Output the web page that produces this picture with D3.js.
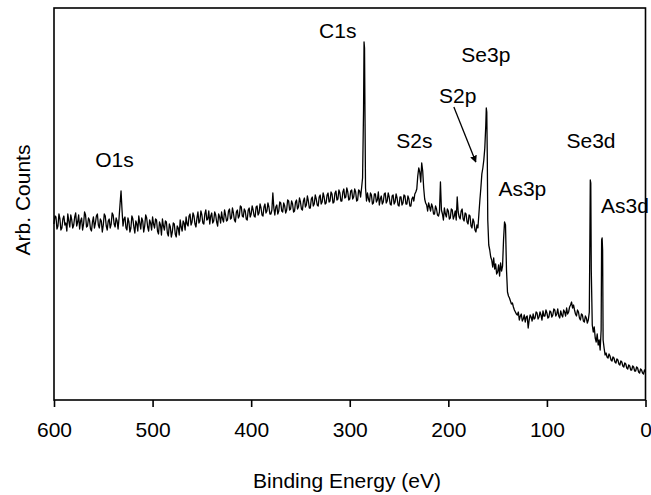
<!DOCTYPE html>
<html>
<head>
  <meta charset="utf-8">
  <title>XPS survey</title>
  <script src="https://cdn.jsdelivr.net/npm/d3@7"></script>
  <style>
    body { margin: 0; background: #fff; }
    svg text { font-family: "Liberation Sans", Arial, sans-serif; fill: #000; }
  </style>
</head>
<body>
<div id="chart"></div>
<script>
// binding energy (eV), counts (arb.)
var spectrum = [
  [600,176],[599,184],[598,183],[597,171],[596,174],[595,186],[594,181],[593,170],[592,172],[591,181],
  [590,184],[589,175],[588,177],[587,169],[586,186],[585,179],[584,173],[583,185],[582,180],[581,172],
  [580,175],[579,183],[578,187],[577,174],[576,178],[575,185],[574,171],[573,179],[572,182],[571,170],
  [570,176],[569,188],[568,185],[567,173],[566,174],[565,182],[564,180],[563,171],[562,169],[561,178],
  [560,183],[559,172],[558,177],[557,184],[556,186],[555,175],[554,172],[553,181],[552,179],[551,168],
  [550,175],[549,186],[548,184],[547,174],[546,170],[545,179],[544,181],[543,172],[542,176],[541,187],
  [540,185],[539,176],[538,173],[537,182],[536,179],[535,171],[534,182],[533,196],[532,209],[531,190],
  [530,174],[529,181],[528,183],[527,172],[526,170],[525,182],[524,178],[523,168],[522,172],[521,184],
  [520,181],[519,173],[518,167],[517,179],[516,176],[515,169],[514,184],[513,177],[512,171],[511,182],
  [510,179],[509,168],[508,174],[507,185],[506,182],[505,173],[504,169],[503,180],[502,177],[501,170],
  [500,183],[499,176],[498,172],[497,181],[496,180],[495,169],[494,166],[493,178],[492,175],[491,165],
  [490,181],[489,174],[488,170],[487,179],[486,178],[485,167],[484,164],[483,176],[482,173],[481,163],
  [480,168],[479,177],[478,176],[477,166],[476,163],[475,174],[474,172],[473,165],[472,180],[471,173],
  [470,169],[469,179],[468,177],[467,170],[466,183],[465,176],[464,174],[463,184],[462,186],[461,175],
  [460,178],[459,187],[458,184],[457,176],[456,173],[455,182],[454,188],[453,177],[452,179],[451,189],
  [450,185],[449,177],[448,176],[447,186],[446,190],[445,180],[444,181],[443,189],[442,176],[441,184],
  [440,187],[439,177],[438,179],[437,188],[436,185],[435,178],[434,174],[433,186],[432,183],[431,177],
  [430,188],[429,181],[428,178],[427,190],[426,185],[425,179],[424,180],[423,189],[422,191],[421,181],
  [420,182],[419,192],[418,187],[417,180],[416,178],[415,188],[414,190],[413,182],[412,184],[411,194],
  [410,193],[409,184],[408,183],[407,191],[406,189],[405,181],[404,180],[403,190],[402,192],[401,183],
  [400,186],[399,194],[398,190],[397,184],[396,183],[395,193],[394,194],[393,185],[392,187],[391,196],
  [390,192],[389,185],[388,184],[387,193],[386,196],[385,187],[384,189],[383,197],[382,193],[381,186],
  [380,186],[379,190],[378,207],[377,192],[376,185],[375,193],[374,195],[373,186],[372,189],[371,198],
  [370,197],[369,189],[368,188],[367,197],[366,194],[365,187],[364,190],[363,200],[362,199],[361,190],
  [360,191],[359,199],[358,196],[357,188],[356,189],[355,198],[354,200],[353,191],[352,193],[351,202],
  [350,198],[349,191],[348,190],[347,199],[346,202],[345,193],[344,195],[343,204],[342,199],[341,192],
  [340,192],[339,201],[338,203],[337,194],[336,196],[335,205],[334,201],[333,195],[332,194],[331,203],
  [330,205],[329,196],[328,198],[327,207],[326,203],[325,196],[324,197],[323,205],[322,207],[321,198],
  [320,199],[319,208],[318,206],[317,197],[316,198],[315,207],[314,209],[313,200],[312,201],[311,210],
  [310,207],[309,199],[308,199],[307,208],[306,211],[305,202],[304,203],[303,212],[302,208],[301,200],
  [300,201],[299,209],[298,210],[297,201],[296,203],[295,211],[294,208],[293,199],[292,200],[291,210],
  [290,209],[289,203],[288,212],[287,222],[286,290],[285.5,358],[285,352],[284.5,280],[284,212],[283,199],
  [282,207],[281,201],[280,198],[279,207],[278,205],[277,196],[276,197],[275,206],[274,206],[273,198],
  [272,200],[271,208],[270,195],[269,201],[268,204],[267,196],[266,198],[265,206],[264,207],[263,197],
  [262,199],[261,207],[260,203],[259,196],[258,195],[257,204],[256,205],[255,196],[254,198],[253,206],
  [252,202],[251,195],[250,194],[249,203],[248,203],[247,195],[246,197],[245,205],[244,204],[243,196],
  [242,196],[241,204],[240,201],[239,194],[238,194],[237,201],[236,203],[235,199],[234,206],[233,208],
  [232,211],[231,224],[230,232],[229,228],[228,218],[227,237],[226,229],[225,212],[224,201],[223,197],
  [222,195],[221,189],[220,197],[219,193],[218,189],[217,196],[216,193],[215,186],[214,186],[213,194],
  [212,191],[211,185],[210,184],[209,188],[208,218],[207,190],[206,186],[205,180],[204,192],[203,186],
  [202,183],[201,191],[200,189],[199,181],[198,182],[197,191],[196,190],[195,181],[194,184],[193,189],
  [192,180],[191,203],[190,188],[189,183],[188,181],[187,189],[186,191],[185,181],[184,179],[183,187],
  [182,186],[181,178],[180,176],[179,185],[178,184],[177,174],[176,172],[175,181],[174,178],[173,170],
  [172,168],[171,175],[170,172],[169,186],[168,200],[167,212],[166,226],[165,232],[164,240],[163,252],
  [162,275],[161.5,292],[161,288],[160.5,245],[160,180],[159,155],[158,150],[157,143],[156,140],[155,133],
  [154,142],[153,131],[152,136],[151,126],[150,128],[149,135],[148,124],[147,137],[146,129],[145,134],
  [144,160],[143,178],[142,175],[141,130],[140,108],[139,104],[138,102],[137,99],[136,96],[135,97],
  [134,93],[133,90],[132,88],[131,86],[130,85],[129,88],[128,80],[127,84],[126,86],[125,79],
  [124,81],[123,85],[122,78],[121,83],[120,84],[119,72],[118,80],[117,85],[116,83],[115,79],
  [114,86],[113,81],[112,82],[111,88],[110,87],[109,81],[108,83],[107,88],[106,85],[105,80],
  [104,89],[103,84],[102,84],[101,90],[100,87],[99,82],[98,83],[97,89],[96,88],[95,83],
  [94,85],[93,91],[92,90],[91,84],[90,86],[89,91],[88,84],[87,82],[86,89],[85,85],
  [84,83],[83,90],[82,88],[81,84],[80,92],[79,86],[78,88],[77,93],[76,95],[75,98],
  [74,92],[73,95],[72,90],[71,86],[70,84],[69,90],[68,88],[67,82],[66,80],[65,86],
  [64,85],[63,79],[62,78],[61,84],[60,82],[59,77],[58,80],[57,88],[56.5,150],[56,220],
  [55.5,217],[55,130],[54,75],[53,68],[52,73],[51,62],[50,58],[49,66],[48,55],[47,60],
  [46,50],[45,70],[44.5,160],[44,162],[43.5,150],[43,60],[42,52],[41,45],[40,47],[39,43],
  [38,42],[37,46],[36,44],[35,40],[34,39],[33,43],[32,42],[31,38],[30,37],[29,41],
  [28,40],[27,36],[26,35],[25,39],[24,38],[23,34],[22,33],[21,37],[20,36],[19,32],
  [18,31],[17,35],[16,34],[15,30],[14,30],[13,34],[12,33],[11,29],[10,29],[9,33],
  [8,32],[7,28],[6,27],[5,31],[4,30],[3,27],[2,26],[1,30],[0,28]
];

var xTicks = [600, 500, 400, 300, 200, 100, 0];

// peak labels: text, energy of centre, count level of baseline
var labels = [
  ["O1s", 538.6, 233],
  ["C1s", 312.2, 362],
  ["Se3p", 161.9, 338],
  ["S2p", 190.4, 297],
  ["S2s", 234.5, 252],
  ["Se3d", 55.3, 252],
  ["As3p", 124.9, 204],
  ["As3d", 20.8, 187]
];

// arrow from S2p label to its shoulder: [E1, c1, E2, c2]
var s2pArrow = [194.4, 293, 172.1, 238];

var W = 651, H = 495;
var mLeft = 54, mRight = 645.5, mTop = 8, mBottom = 400;

var svg = d3.select("#chart").append("svg")
    .attr("width", W)
    .attr("height", H);

var x = d3.scaleLinear().domain([600, 0]).range([mLeft, mRight]);
var y = d3.scaleLinear().domain([0, 392]).range([mBottom, mTop]);

// spectrum
var line = d3.line()
    .x(function(d) { return x(d[0]); })
    .y(function(d) { return y(d[1]); });

svg.append("path")
    .datum(spectrum)
    .attr("d", line)
    .attr("fill", "none")
    .attr("stroke", "#000")
    .attr("stroke-width", 1.3)
    .attr("stroke-linejoin", "round");

// frame
svg.append("rect")
    .attr("x", mLeft)
    .attr("y", mTop)
    .attr("width", mRight - mLeft)
    .attr("height", mBottom - mTop)
    .attr("fill", "none")
    .attr("stroke", "#000")
    .attr("stroke-width", 1.6);

// x axis
var xAxis = d3.axisBottom(x)
    .tickValues(xTicks)
    .tickSize(7)
    .tickPadding(15)
    .tickSizeOuter(0);

var gx = svg.append("g")
    .attr("transform", "translate(0," + mBottom + ")")
    .call(xAxis);
gx.select(".domain").remove();
gx.selectAll(".tick line").attr("stroke", "#000").attr("stroke-width", 1.6);
gx.selectAll(".tick text")
    .attr("font-size", "21px")
    .attr("font-family", "Liberation Sans, Arial, sans-serif")
    .attr("fill", "#000");

svg.append("text")
    .attr("x", 347)
    .attr("y", 488)
    .attr("text-anchor", "middle")
    .attr("font-size", "21px")
    .text("Binding Energy (eV)");

svg.append("text")
    .attr("transform", "translate(30,200) rotate(-90)")
    .attr("text-anchor", "middle")
    .attr("font-size", "21px")
    .text("Arb. Counts");

// peak labels
svg.selectAll(".peak")
    .data(labels)
    .enter()
    .append("text")
    .attr("class", "peak")
    .attr("x", function(d) { return x(d[1]); })
    .attr("y", function(d) { return y(d[2]); })
    .attr("text-anchor", "middle")
    .attr("font-size", "21px")
    .text(function(d) { return d[0]; });

svg.append("defs").append("marker")
    .attr("id", "head")
    .attr("viewBox", "0 0 10 10")
    .attr("refX", 9)
    .attr("refY", 5)
    .attr("markerWidth", 7)
    .attr("markerHeight", 7)
    .attr("markerUnits", "userSpaceOnUse")
    .attr("orient", "auto")
    .append("path")
    .attr("d", "M0,0 L10,5 L0,10 Z")
    .attr("fill", "#000");

svg.append("line")
    .attr("x1", x(s2pArrow[0]))
    .attr("y1", y(s2pArrow[1]))
    .attr("x2", x(s2pArrow[2]))
    .attr("y2", y(s2pArrow[3]))
    .attr("stroke", "#000")
    .attr("stroke-width", 1.3)
    .attr("marker-end", "url(#head)");
</script>
</body>
</html>
